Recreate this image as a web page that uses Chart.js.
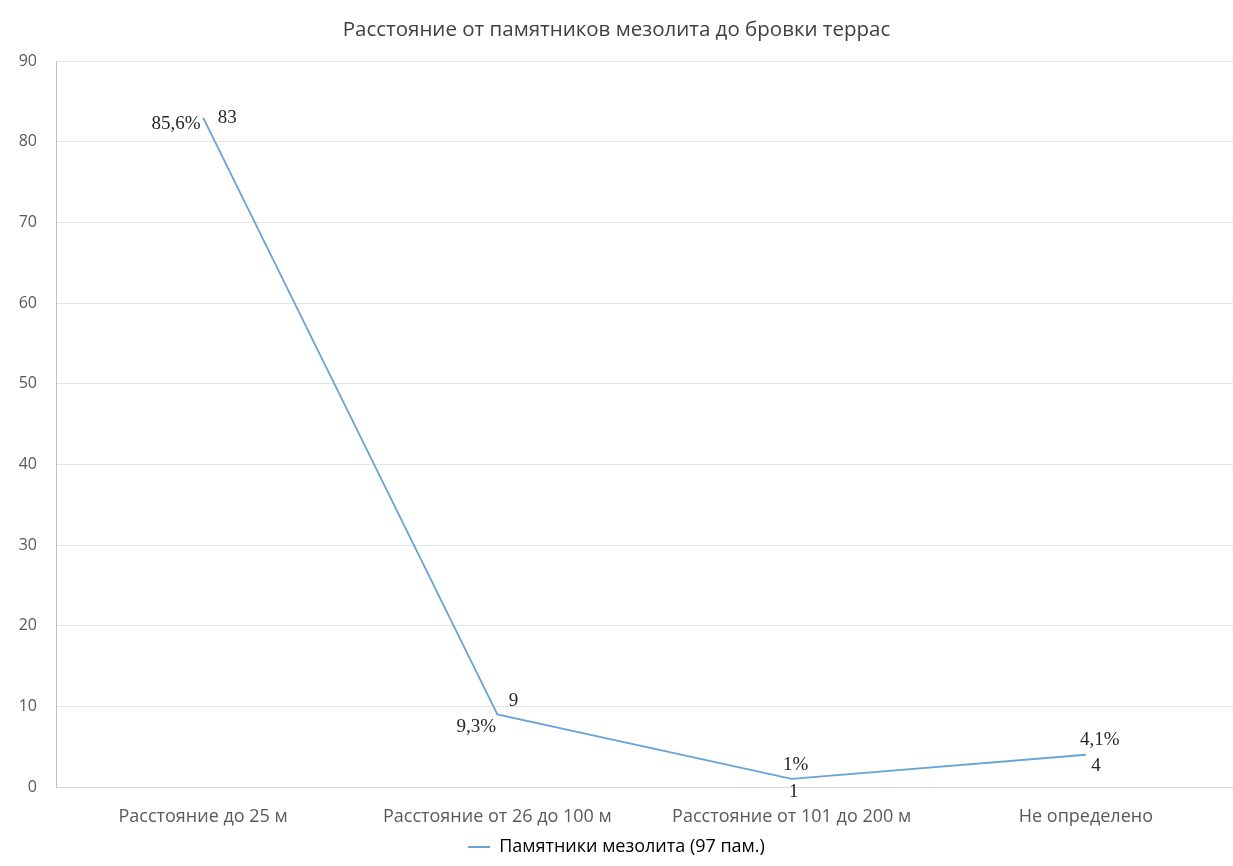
<!DOCTYPE html>
<html lang="ru">
<head>
  <meta charset="UTF-8" />
  <title>Расстояние от памятников мезолита до бровки террас</title>
  <script src="https://cdn.jsdelivr.net/npm/chart.js"></script>
  <style>
    html, body { margin: 0; padding: 0; background: #fff; }
    .wrap { width: 1233px; height: 866px; }
  </style>
</head>
<body>
  <div class="wrap"><canvas id="chart"></canvas></div>
  <script>
    const titleText = 'Расстояние от памятников мезолита до бровки террас';
    const categories = ['Расстояние до 25 м', 'Расстояние от 26 до 100 м', 'Расстояние от 101 до 200 м', 'Не определено'];
    const seriesName = 'Памятники мезолита (97 пам.)';
    const counts = [83, 9, 1, 4];
    const percentLabels = ['85,6%', '9,3%', '1%', '4,1%'];
    const yTicks = [0, 10, 20, 30, 40, 50, 60, 70, 80, 90];

    // where each pair of labels sits relative to its point: [count dx, dy], [percent dx, dy]
    const labelOffsets = [
      [[24, 0], [-27, 6]],
      [[16, -13], [-21, 13]],
      [[2, 13], [4, -14]],
      [[10, 11], [14, -15]]
    ];

    const sansFont = "'Open Sans', sans-serif";
    const lineColor = '#6aa3d5';

    const pointLabels = {
      id: 'pointLabels',
      afterDatasetsDraw(chart) {
        const ctx = chart.ctx;
        const meta = chart.getDatasetMeta(0);
        ctx.save();
        ctx.font = "19px 'Liberation Serif', 'DejaVu Serif', serif";
        ctx.fillStyle = '#262626';
        ctx.textAlign = 'center';
        ctx.textBaseline = 'middle';
        meta.data.forEach((pt, i) => {
          const [c, p] = labelOffsets[i];
          ctx.fillText(String(counts[i]), pt.x + c[0], pt.y + c[1]);
          ctx.fillText(percentLabels[i], pt.x + p[0], pt.y + p[1]);
        });
        ctx.restore();
      }
    };

    new Chart(document.getElementById('chart'), {
      type: 'line',
      data: {
        labels: categories,
        datasets: [{
          label: seriesName,
          data: counts,
          borderColor: lineColor,
          backgroundColor: lineColor,
          borderWidth: 1.8,
          pointRadius: 0,
          tension: 0,
          fill: false
        }]
      },
      options: {
        responsive: true,
        maintainAspectRatio: false,
        animation: false,
        layout: { padding: { left: 0, right: 0, top: 0, bottom: 0 } },
        plugins: {
          title: {
            display: true,
            text: titleText,
            color: '#404040',
            font: { family: sansFont, size: 20.5, weight: 'normal' },
            padding: { top: 18, bottom: 18.5 }
          },
          legend: {
            position: 'bottom',
            labels: {
              color: '#404040',
              font: { family: sansFont, size: 18 },
              boxWidth: 22,
              boxHeight: 0,
              padding: 3,
              generateLabels(chart) {
                return [{
                  text: seriesName,
                  strokeStyle: lineColor,
                  fillStyle: lineColor,
                  lineWidth: 2,
                  datasetIndex: 0
                }];
              }
            }
          },
          tooltip: { enabled: false }
        },
        scales: {
          x: {
            offset: true,
            afterFit(scale) { scale.height = 48; },
            grid: { display: false, drawTicks: false },
            border: { display: true, color: '#d9d9d9' },
            ticks: {
              color: '#595959',
              font: { family: sansFont, size: 18 },
              padding: 19,
              maxRotation: 0
            }
          },
          y: {
            min: 0,
            max: 90,
            afterBuildTicks(scale) {
              scale.ticks = yTicks.map(v => ({ value: v }));
            },
            afterFit(scale) { scale.width = 56; },
            grid: { color: '#e4e4e4', drawTicks: false },
            border: { display: true, color: '#bfbfbf' },
            ticks: {
              color: '#595959',
              font: { family: sansFont, size: 16 },
              padding: 19
            }
          }
        }
      },
      plugins: [pointLabels]
    });
  </script>
</body>
</html>
